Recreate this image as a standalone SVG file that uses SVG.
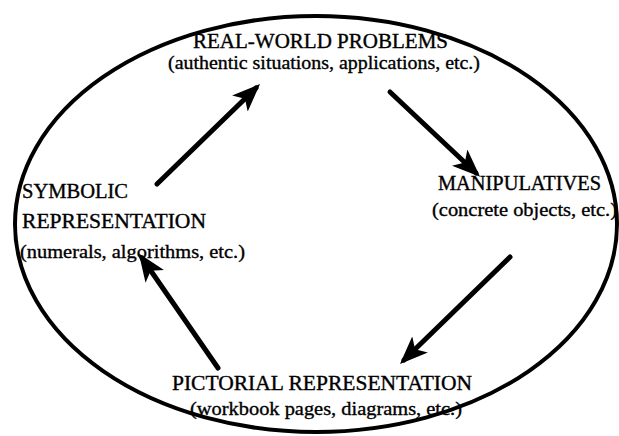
<svg xmlns="http://www.w3.org/2000/svg" width="619" height="436" viewBox="0 0 619 436">
  <style>
    .t { font-family: "Liberation Serif", "Times New Roman", serif; fill: #000; stroke: #000; stroke-width: 0.35; font-size: 20px; }
    .s { font-family: "Liberation Serif", "Times New Roman", serif; fill: #000; stroke: #000; stroke-width: 0.35; font-size: 19px; }
    .c { stroke: #000; stroke-width: 5; stroke-linecap: round; fill: none; }
  </style>
  <defs>
    <marker id="head" viewBox="0 0 10 8" refX="8" refY="4" markerWidth="5.6" markerHeight="4.5" orient="auto" markerUnits="strokeWidth">
      <path d="M0,0 L10,4 L0,8 L2.5,4 Z" fill="#000"/>
    </marker>
  </defs>
  <rect width="619" height="436" fill="#fff"/>

  <!-- enclosing cycle -->
  <ellipse cx="316" cy="224" rx="301" ry="208" fill="none" stroke="#000" stroke-width="4"/>

  <g id="real-world">
    <text class="t" x="193" y="48" textLength="255" lengthAdjust="spacingAndGlyphs">REAL-WORLD PROBLEMS</text>
    <text class="s" x="168" y="69" textLength="312" lengthAdjust="spacingAndGlyphs">(authentic situations, applications, etc.)</text>
  </g>

  <g id="manipulatives">
    <text class="t" x="438" y="190" textLength="163" lengthAdjust="spacingAndGlyphs">MANIPULATIVES</text>
    <text class="s" x="432" y="216" textLength="185" lengthAdjust="spacingAndGlyphs">(concrete objects, etc.)</text>
  </g>

  <g id="pictorial">
    <text class="t" x="172" y="390" textLength="300" lengthAdjust="spacingAndGlyphs">PICTORIAL REPRESENTATION</text>
    <text class="s" x="190" y="415" textLength="272" lengthAdjust="spacingAndGlyphs">(workbook pages, diagrams, etc.)</text>
  </g>

  <g id="symbolic">
    <text class="t" x="22" y="198" textLength="106" lengthAdjust="spacingAndGlyphs">SYMBOLIC</text>
    <text class="t" x="22" y="228" textLength="184" lengthAdjust="spacingAndGlyphs">REPRESENTATION</text>
    <text class="s" x="20" y="258" textLength="225" lengthAdjust="spacingAndGlyphs">(numerals, algorithms, etc.)</text>
  </g>

  <g id="connectors">
    <line class="c" x1="157" y1="184" x2="256" y2="88" marker-end="url(#head)"/>
    <line class="c" x1="390" y1="92" x2="476" y2="173" marker-end="url(#head)"/>
    <line class="c" x1="510" y1="257" x2="404" y2="360" marker-end="url(#head)"/>
    <line class="c" x1="218" y1="368" x2="142" y2="258" marker-end="url(#head)"/>
  </g>
</svg>
